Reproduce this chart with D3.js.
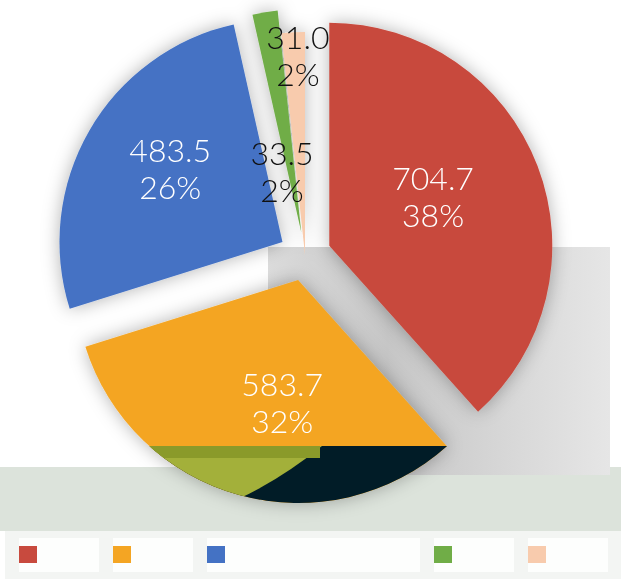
<!DOCTYPE html>
<html>
<head>
<meta charset="utf-8">
<script src="https://cdn.jsdelivr.net/npm/d3@7"></script>
<style>
    html, body { margin: 0; padding: 0; background: #ffffff; }
    svg { display: block; }
    .val { font-family: Lato, "Open Sans", sans-serif; font-weight: 300; font-size: 32px; }
</style>
</head>
<body>
<div id="dataviz"></div>
<script>
"use strict";

// Chart data
var categories = ["", "", "", "", ""];
var values = [704.7, 583.7, 483.5, 33.5, 31.0];
var percentLabels = ["38%", "32%", "26%", "2%", "2%"];
var valueLabels = ["704.7", "583.7", "483.5", "33.5", "31.0"];
var colors = ["#c84a3e", "#f4a523", "#4472c4", "#70ad47", "#f8cbad"];

// Layout / style
const WIDTH = 621, HEIGHT = 579;
const CX = 305, CY = 255, RADIUS = 223;
const EXPLODE = [26, 26, 26, 23, 0];            // pull-out distance per slice
const LABEL_R = [0.515, 0.558, 0.6, 0.286, 0.895]; // label distance as share of radius
const LABEL_DA = [-4.4, -8, 3, -8.2, 1];         // label angle nudge (degrees)
const LEGEND_W = [80, 80, 213, 80, 80];

var svg = d3.select("#dataviz").append("svg")
    .attr("width", WIDTH)
    .attr("height", HEIGHT);

var defs = svg.append("defs");

var shadow = defs.append("filter").attr("id", "shadow")
    .attr("x", "-30%").attr("y", "-30%").attr("width", "160%").attr("height", "160%");
shadow.append("feDropShadow")
    .attr("dx", 0).attr("dy", 0)
    .attr("stdDeviation", 9)
    .attr("flood-color", "#000")
    .attr("flood-opacity", 0.3);

var grad = defs.append("linearGradient").attr("id", "greyGrad")
    .attr("x1", "0%").attr("x2", "100%").attr("y1", "0%").attr("y2", "0%");
grad.append("stop").attr("offset", "0%").attr("stop-color", "#dcdcdc");
grad.append("stop").attr("offset", "35%").attr("stop-color", "#c6c6c6");
grad.append("stop").attr("offset", "100%").attr("stop-color", "#e6e6e6");

// Background bands
svg.append("rect")
    .attr("x", 0).attr("y", 467).attr("width", WIDTH).attr("height", 64)
    .attr("fill", "#dce3db");

svg.append("rect")
    .attr("x", 268).attr("y", 247).attr("width", 342).attr("height", 228)
    .attr("fill", "url(#greyGrad)");

// Pie
var pie = d3.pie().sort(null).value(function (d) { return d; });
var arcs = pie(values);

var arc = d3.arc().innerRadius(0).outerRadius(RADIUS);

function polar(a, dist) {
    return [Math.sin(a) * dist, -Math.cos(a) * dist];
}
function midAngle(d) {
    return (d.startAngle + d.endAngle) / 2;
}

var pieGroup = svg.append("g")
    .attr("transform", "translate(" + CX + "," + CY + ")")
    .attr("filter", "url(#shadow)");

pieGroup.selectAll("path.slice")
    .data(arcs)
    .enter().append("path")
    .attr("class", "slice")
    .attr("d", arc)
    .attr("fill", function (d, i) { return colors[i]; })
    .attr("transform", function (d, i) {
        var o = polar(midAngle(d), EXPLODE[i]);
        return "translate(" + o[0] + "," + o[1] + ")";
    });

// Dark / olive recolouring on the lower part of the second slice
var o1 = polar(midAngle(arcs[1]), EXPLODE[1]);
defs.append("clipPath").attr("id", "slice1Clip")
    .append("path")
    .attr("d", arc(arcs[1]))
    .attr("transform", "translate(" + (CX + o1[0]) + "," + (CY + o1[1]) + ")");

var cut = svg.append("g").attr("clip-path", "url(#slice1Clip)");
cut.append("rect")
    .attr("x", 0).attr("y", 446).attr("width", WIDTH).attr("height", 80)
    .attr("fill", "#011c27");
cut.append("path")
    .attr("d", "M0,446 L322,446 Q280,480 236,500 L0,520 Z")
    .attr("fill", "#a3b03a");
cut.append("rect")
    .attr("x", 150).attr("y", 446).attr("width", 170).attr("height", 12)
    .attr("fill", "#8a9a2a");

// Labels
var labels = svg.append("g").attr("class", "labels");

arcs.forEach(function (d, i) {
    var o = polar(midAngle(d), EXPLODE[i]);
    var p = polar(midAngle(d) + LABEL_DA[i] * Math.PI / 180, LABEL_R[i] * RADIUS);
    var x = CX + o[0] + p[0];
    var y = CY + o[1] + p[1];
    var fill = i < 3 ? "#ffffff" : "#111111";

    var t = labels.append("text")
        .attr("class", "val")
        .attr("text-anchor", "middle")
        .attr("fill", fill);
    t.append("tspan").attr("x", x).attr("y", y - 7).text(valueLabels[i]);
    t.append("tspan").attr("x", x).attr("y", y + 30).text(percentLabels[i]);
});

// Legend
svg.append("rect")
    .attr("x", 5).attr("y", 531).attr("width", WIDTH - 5).attr("height", 48)
    .attr("fill", "#f3f5f3");

var lx = 19;
var legend = svg.append("g").attr("class", "legend");
categories.forEach(function (c, i) {
    var item = legend.append("g").attr("transform", "translate(" + lx + ",538)");
    item.append("rect")
        .attr("width", LEGEND_W[i]).attr("height", 34)
        .attr("fill", "#fdfefd");
    item.append("rect")
        .attr("x", 0).attr("y", 8)
        .attr("width", 18).attr("height", 17)
        .attr("fill", colors[i]);
    item.append("text")
        .attr("x", 26).attr("y", 22)
        .attr("font-family", "Lato, sans-serif")
        .attr("font-size", 13)
        .attr("fill", "#333")
        .text(c);
    lx += LEGEND_W[i] + 14;
});
</script>
</body>
</html>
